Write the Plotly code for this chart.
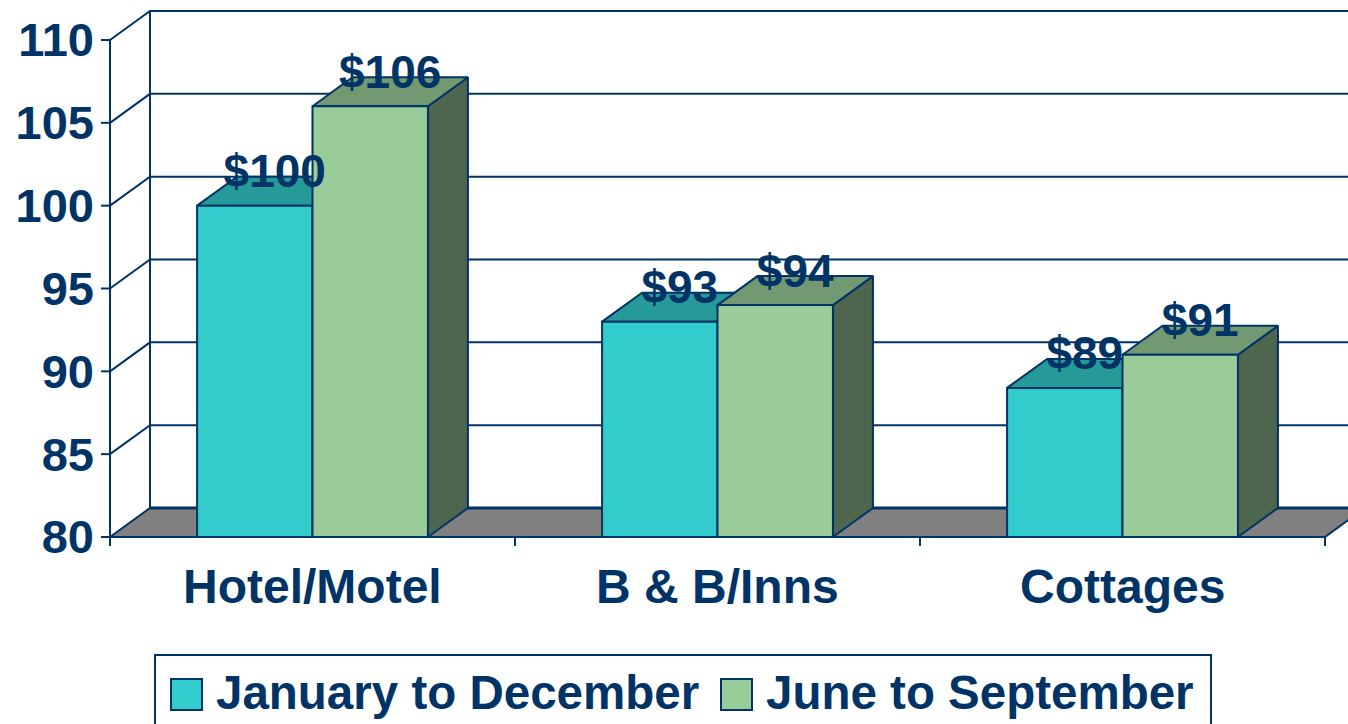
import plotly.graph_objects as go

# ---- data ----
categories = ["Hotel/Motel", "B & B/Inns", "Cottages"]
series_names = ["January to December", "June to September"]
jan_dec = [100, 93, 89]
jun_sep = [106, 94, 91]
y_ticks = [80, 85, 90, 95, 100, 105, 110]

# ---- style ----
NAVY = "#003366"
FONT = "Liberation Sans, Arial, sans-serif"
FRONT = ["#33CCCC", "#99CC99"]
TOP = ["#269999", "#739973"]
SIDE = ["#1A6666", "#4D664D"]
FLOOR = "#808080"

# ---- page geometry (pixels) ----
W_PX, H_PX = 1348, 724
LEFT_PX = 100          # left edge of the plotting area
AXIS_PX = 110          # front value axis
CAT_PX = 405           # width of one category slot
FLOOR_PX = 537         # front floor line
TOP_PX = 40            # top tick on the front axis
DEPTH_X_PX, DEPTH_Y_PX = 40, 29
BAR_W = 0.285          # bar width in category units

y_min, y_max = min(y_ticks), max(y_ticks)
py = (FLOOR_PX - TOP_PX) / (y_max - y_min)      # pixels per value unit
dx = DEPTH_X_PX / CAT_PX                         # depth offset, x units
dy = DEPTH_Y_PX / py                             # depth offset, y units
x0 = -0.5
x1 = len(categories) - 0.5
x_range = [x0 - (AXIS_PX - LEFT_PX) / CAT_PX, x0 + (W_PX - AXIS_PX) / CAT_PX]
y_range = [y_min - (H_PX - FLOOR_PX) / py, y_min + FLOOR_PX / py]

fig = go.Figure()


def lines(segments, width=2):
    xs, ys = [], []
    for sx, sy in segments:
        xs += list(sx) + [None]
        ys += list(sy) + [None]
    fig.add_trace(go.Scatter(x=xs, y=ys, mode="lines", hoverinfo="skip",
                             line=dict(color=NAVY, width=width), showlegend=False))


def poly(xs, ys, fill, width=2):
    fig.add_trace(go.Scatter(x=list(xs) + [xs[0]], y=list(ys) + [ys[0]],
                             mode="lines", fill="toself", fillcolor=fill,
                             line=dict(color=NAVY, width=width),
                             hoverinfo="skip", showlegend=False))


# back wall and side wall gridlines
grid = []
for t in y_ticks:
    if t == y_min:
        continue
    grid.append(([x0, x0 + dx, x1 + dx], [t, t + dy, t + dy]))
grid.append(([x0 + dx, x0 + dx], [y_min + dy, y_max + dy]))
lines(grid)

# floor
poly([x0, x1, x1 + dx, x0 + dx], [y_min, y_min, y_min + dy, y_min + dy], FLOOR)
lines([([x0 + dx, x1 + dx], [y_min + dy, y_min + dy])], width=3)

# front axis, its ticks and the category separators
tick_len_y = 9 / py
tick_len_x = 9 / CAT_PX
axis = [([x0, x0], [y_max, y_min - tick_len_y])]
for t in y_ticks:
    axis.append(([x0 - tick_len_x, x0], [t, t]))
for i in range(len(categories)):
    b = i + 0.5
    axis.append(([b, b], [y_min, y_min - tick_len_y]))
axis.append(([x0, x1], [y_min, y_min]))
lines(axis)

# 3-D bars: side, top, then front face of each bar
series = [jan_dec, jun_sep]
for i in range(len(categories)):
    for s, vals in enumerate(series):
        v = vals[i]
        left = i - BAR_W + s * BAR_W
        right = left + BAR_W
        poly([right, right + dx, right + dx, right],
             [y_min, y_min + dy, v + dy, v], SIDE[s])
        poly([left, right, right + dx, left + dx],
             [v, v, v + dy, v + dy], TOP[s])
        poly([left, right, right, left], [y_min, y_min, v, v], FRONT[s])

# value labels above each bar
lx, ly, lt = [], [], []
for i in range(len(categories)):
    for s, vals in enumerate(series):
        v = vals[i]
        centre = i - BAR_W + s * BAR_W + BAR_W / 2
        lx.append(centre + dx / 2)
        ly.append(v + dy + 1 / py)
        lt.append(f"${v}")
fig.add_trace(go.Scatter(x=lx, y=ly, text=lt, mode="text",
                         textposition="middle center", hoverinfo="skip",
                         textfont=dict(family=FONT, size=46, color=NAVY, weight="bold"),
                         showlegend=False, cliponaxis=False))

# category labels
for i, name in enumerate(categories):
    fig.add_annotation(x=i, y=y_min - 49 / py, text=name, showarrow=False,
                       xanchor="center", yanchor="middle",
                       font=dict(family=FONT, size=48, color=NAVY, weight="bold"))


# legend box
def px_x(p):
    return (p - LEFT_PX) / (W_PX - LEFT_PX)


def px_y(p):
    return 1 - p / H_PX


fig.add_shape(type="rect", xref="paper", yref="paper",
              x0=px_x(155), x1=px_x(1211), y0=px_y(655), y1=px_y(740),
              line=dict(color=NAVY, width=2), fillcolor="white")
for s, (sq_x, txt_x) in enumerate([(171, 214), (721, 764)]):
    fig.add_shape(type="rect", xref="paper", yref="paper",
                  x0=px_x(sq_x), x1=px_x(sq_x + 31), y0=px_y(679), y1=px_y(710),
                  line=dict(color=NAVY, width=2), fillcolor=FRONT[s])
    fig.add_annotation(xref="paper", yref="paper", x=px_x(txt_x), y=px_y(692),
                       text=series_names[s], showarrow=False,
                       xanchor="left", yanchor="middle",
                       font=dict(family=FONT, size=47.5, color=NAVY, weight="bold"))

fig.update_layout(
    width=W_PX, height=H_PX,
    margin=dict(l=LEFT_PX, r=0, t=0, b=0),
    paper_bgcolor="white", plot_bgcolor="white",
    showlegend=False,
    xaxis=dict(range=x_range, visible=False, fixedrange=True),
    yaxis=dict(range=y_range, tickvals=y_ticks, ticks="", showgrid=False,
               zeroline=False, showline=False, ticklabelstandoff=5,
               tickfont=dict(family=FONT, size=47, color=NAVY, weight="bold"),
               fixedrange=True),
)

fig.write_html("out.html", config={"displayModeBar": False})
